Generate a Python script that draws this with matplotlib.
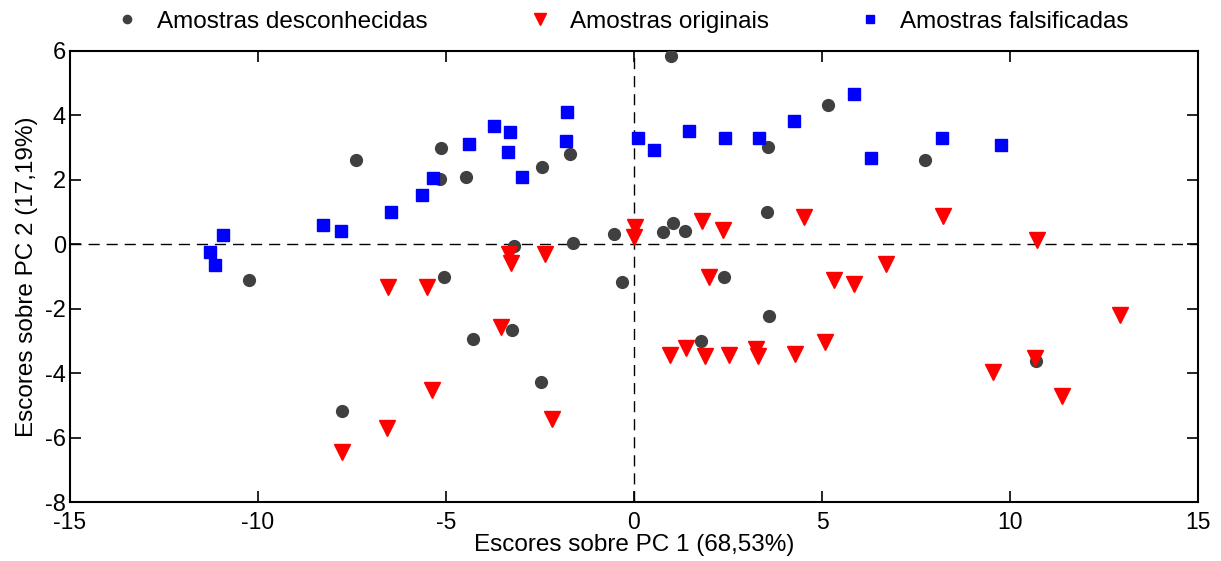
import matplotlib
matplotlib.use("Agg")
import matplotlib.pyplot as plt

plt.rcParams['font.family'] = ['Liberation Sans', 'DejaVu Sans']
plt.rcParams['axes.unicode_minus'] = False

# Amostras desconhecidas (circles)
unk_x = [-10.24, -7.39, -7.76, -5.14, -5.15, -5.06, -4.46, -4.28, -3.20, -3.24,
         -2.46, -2.47, -1.69, -1.61, -0.52, -0.32, 0.78, 0.98, 1.03, 1.36,
         1.78, 2.40, 3.56, 3.55, 3.58, 5.16, 7.73, 10.70]
unk_y = [-1.10, 2.60, -5.18, 2.99, 2.01, -1.02, 2.09, -2.95, -0.05, -2.66,
         2.40, -4.28, 2.81, 0.04, 0.32, -1.16, 0.37, 5.83, 0.67, 0.42,
         -3.01, -1.03, 3.02, 0.99, -2.23, 4.33, 2.60, -3.61]

# Amostras originais (triangles)
orig_x = [0.03, 0.01, 1.82, 2.38, 4.51, 8.22, 10.73, 6.69, -3.32, -3.26,
          -2.36, -6.54, -5.51, -5.37, -6.57, -7.77, -3.53, -2.18, 2.00, 5.31,
          5.84, 0.97, 1.38, 1.88, 2.53, 3.25, 3.29, 4.27, 5.09, 9.55,
          10.67, 11.38, 12.93]
orig_y = [0.55, 0.24, 0.72, 0.43, 0.84, 0.87, 0.14, -0.62, -0.31, -0.57,
          -0.29, -1.32, -1.32, -4.53, -5.69, -6.44, -2.58, -5.41, -1.01, -1.11,
          -1.24, -3.43, -3.22, -3.47, -3.43, -3.25, -3.45, -3.40, -3.04, -3.95,
          -3.52, -4.71, -2.19]

# Amostras falsificadas (squares)
fals_x = [-11.27, -11.15, -10.93, -8.26, -7.80, -6.45, -5.63, -5.34, -4.40, -3.72,
          -3.31, -3.35, -2.99, -1.78, -1.81, 0.11, 0.54, 1.46, 2.43, 3.32,
          4.25, 5.84, 6.30, 8.19, 9.76]
fals_y = [-0.23, -0.65, 0.29, 0.60, 0.42, 0.99, 1.52, 2.06, 3.12, 3.67,
          3.47, 2.87, 2.08, 4.09, 3.19, 3.28, 2.91, 3.50, 3.28, 3.28,
          3.83, 4.66, 2.66, 3.28, 3.07]

labels = ['Amostras desconhecidas', 'Amostras originais', 'Amostras falsificadas']
xticks = [-15, -10, -5, 0, 5, 10, 15]
yticks = [-8, -6, -4, -2, 0, 2, 4, 6]

W, H = 1221, 561
fig = plt.figure(figsize=(W / 100, H / 100), dpi=100)
ax = fig.add_axes([70 / W, 1 - 502.3 / H, 1128 / W, 451.6 / H])

ax.axhline(0, color='black', linestyle=(0, (8, 5)), linewidth=1.0, zorder=1)
ax.axvline(0, color='black', linestyle=(0, (8, 5)), linewidth=1.0, zorder=1)

h1, = ax.plot(unk_x, unk_y, 'o', color='#404040', markersize=8.5, linestyle='none', zorder=3)
h2, = ax.plot(orig_x, orig_y, 'v', color='#ff0000', markersize=12, linestyle='none', zorder=4)
h3, = ax.plot(fals_x, fals_y, 's', color='#0000ff', markersize=8.7, linestyle='none', zorder=5)

ax.set_xlim(-15, 15)
ax.set_ylim(-8, 6)
ax.set_xticks(xticks)
ax.set_yticks(yticks)
ax.tick_params(direction='in', length=8, width=1.2, top=True, right=True,
               labelsize=17)
ax.tick_params(axis='x', pad=6, labelsize=16.5)
ax.tick_params(axis='y', pad=3)
for s in ax.spines.values():
    s.set_linewidth(1.5)

ax.set_xlabel('Escores sobre PC 1 (68,53%)', fontsize=17.5, labelpad=0.5)
ax.set_ylabel('Escores sobre PC 2 (17,19%)', fontsize=17.5, labelpad=5)

# legend entries placed individually (marker centre x in pixels)
marker_px = [127, 540, 870]
fs = 17.5
hl, tp = 1.0, 0.75
half_px = hl * fs * 100 / 72 / 2
for h, lab, mx in zip([h1, h2, h3], labels, marker_px):
    fig.legend([h], [lab], loc='center left', frameon=False, fontsize=fs,
               bbox_to_anchor=((mx - half_px) / W, 1 - 21.5 / H),
               borderpad=0, borderaxespad=0, handlelength=hl,
               handletextpad=tp, markerscale=0.7)

fig.savefig('out.png', dpi=100)
